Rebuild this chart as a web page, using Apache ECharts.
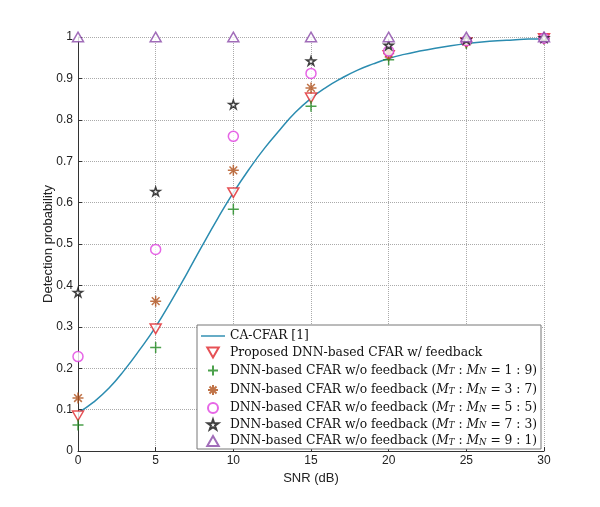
<!DOCTYPE html>
<html lang="en">
<head>
    <meta charset="UTF-8">
    <title>index</title>
    <script src="https://cdn.jsdelivr.net/npm/echarts@6/dist/echarts.min.js"></script>
    <style>
        html,body{margin:0;padding:0;background:#fff;}
        #chart{width:600px;height:507px;}
    </style>
</head>
<body>
<div id="chart"></div>
<script>
    // SNR points where the DNN detectors were evaluated
    var snrPoints = [0, 5, 10, 15, 20, 25, 30];
    // CA-CFAR curve, read every 1 dB
    var caSnr = [0,1,2,3,4,5,6,7,8,9,10,11,12,13,14,15,16,17,18,19,20,21,22,23,24,25,26,27,28,29,30];
    var caPd = [0.092,0.118,0.152,0.196,0.246,0.300,0.362,0.428,0.496,0.562,0.624,0.680,0.731,0.776,0.818,0.852,0.879,0.901,0.920,0.935,0.948,0.958,0.966,0.973,0.979,0.984,0.988,0.991,0.993,0.995,0.996];
    var proposedPd = [0.085, 0.295, 0.624, 0.853, 0.955, 0.986, 0.996];
    var pd19 = [0.063, 0.250, 0.584, 0.833, 0.945, 0.984, 0.995];
    var pd37 = [0.128, 0.362, 0.678, 0.877, 0.960, 0.989, 0.997];
    var pd55 = [0.228, 0.487, 0.760, 0.912, 0.966, 0.991, 0.997];
    var pd73 = [0.383, 0.627, 0.837, 0.942, 0.980, 0.994, 0.998];
    var pd91 = [1.000, 1.000, 1.000, 1.000, 1.000, 1.000, 1.000];
    var yTicks = [0, 0.1, 0.2, 0.3, 0.4, 0.5, 0.6, 0.7, 0.8, 0.9, 1];

    var serif = '"DejaVu Serif", "Liberation Serif", serif';
    var sans = '"Liberation Sans", Arial, sans-serif';

    // marker shapes (MATLAB-like)
    var triDownPath = 'path://M0,0 L100,0 L50,87 Z';
    var triUpPath = 'path://M50,0 L100,87 L0,87 Z';
    var plusPath = 'path://M50,0 L50,100 M0,50 L100,50';
    var asteriskPath = 'path://M50,0 L50,100 M0,50 L100,50 M15,15 L85,85 M85,15 L15,85';
    var starPath = 'path://M50,0 L61.2,34.5 L97.6,34.5 L68.2,55.9 L79.4,90.5 L50,69.1 L20.6,90.5 L31.8,55.9 L2.4,34.5 L38.8,34.5 Z';
    var linePath = 'path://M0,0 L100,0 L100,6 L0,6 Z';

    function pairs(xs, ys) {
        var out = [];
        for (var i = 0; i < xs.length; i++) out.push([xs[i], ys[i]]);
        return out;
    }

    function dnnName(ratio) {
        return 'DNN-based CFAR w/o feedback (' + ratio + ')';
    }

    function markerSeries(name, ys, symbol, color, size, fill) {
        return {
            name: name,
            type: 'scatter',
            data: pairs(snrPoints, ys),
            symbol: symbol,
            symbolSize: size,
            symbolKeepAspect: true,
            itemStyle: {color: fill || 'none', borderColor: color, borderWidth: 1.5},
            z: 3
        };
    }

    var ratios = ['1 : 9', '3 : 7', '5 : 5', '7 : 3', '9 : 1'];

    var chart = echarts.init(document.getElementById('chart'));
    chart.setOption({
        animation: false,
        grid: {left: 78, right: 56, top: 37, bottom: 56},
        xAxis: {
            type: 'value', min: 0, max: 30, interval: 5,
            name: 'SNR (dB)', nameLocation: 'middle', nameGap: 20,
            nameTextStyle: {fontFamily: sans, fontSize: 13, color: '#222'},
            axisLine: {lineStyle: {color: '#333', width: 1}},
            axisTick: {inside: true, length: 4, lineStyle: {color: '#333'}},
            axisLabel: {fontFamily: sans, fontSize: 12, color: '#222', margin: 4},
            splitLine: {lineStyle: {type: 'dotted', color: '#aaa'}}
        },
        yAxis: {
            type: 'value', min: 0, max: 1, interval: 0.1,
            name: 'Detection probability', nameLocation: 'middle', nameGap: 23,
            nameMoveOverlap: false,
            nameTextStyle: {fontFamily: sans, fontSize: 13, color: '#222'},
            axisLine: {show: true, lineStyle: {color: '#333', width: 1}},
            axisTick: {show: true, inside: true, length: 4, lineStyle: {color: '#333'}},
            axisLabel: {fontFamily: sans, fontSize: 12, color: '#222', margin: 5,
                formatter: function (v) {
                    var t = yTicks.filter(function (k) { return Math.abs(k - v) < 1e-6; })[0];
                    return t === 0 || t === 1 ? String(t) : t.toFixed(1);
                }},
            splitLine: {lineStyle: {type: 'dotted', color: '#aaa'}}
        },
        legend: {
            orient: 'vertical',
            left: 197, top: 325,
            itemWidth: 24, itemHeight: 10, itemGap: 4.5,
            symbolKeepAspect: true,
            padding: [5, 4, 2, 4],
            backgroundColor: '#fff',
            borderColor: '#777', borderWidth: 1,
            textStyle: {
                fontFamily: serif, fontSize: 12.3, color: '#111',
                rich: {
                    i: {fontFamily: serif, fontStyle: 'italic', fontSize: 12.3, color: '#111'},
                    s: {fontFamily: serif, fontStyle: 'italic', fontSize: 8.5, color: '#111', verticalAlign: 'bottom'},
                    n: {fontFamily: serif, fontSize: 12.3, color: '#111'}
                }
            },
            formatter: function (name) {
                var m = name.match(/\((\d) : (\d)\)/);
                if (!m) return name;
                return '{n|DNN-based CFAR w/o feedback (}{i|M}{s|T}{n| : }{i|M}{s|N}{n| = ' + m[1] + ' : ' + m[2] + ')}';
            },
            data: [
                {name: 'CA-CFAR [1]', icon: linePath},
                'Proposed DNN-based CFAR w/ feedback',
                dnnName(ratios[0]), dnnName(ratios[1]), dnnName(ratios[2]), dnnName(ratios[3]), dnnName(ratios[4])
            ]
        },
        series: [
            {
                name: 'CA-CFAR [1]',
                type: 'line',
                data: pairs(caSnr, caPd),
                smooth: true,
                showSymbol: false,
                symbol: 'none',
                lineStyle: {color: '#2b8cb0', width: 1.5},
                itemStyle: {color: '#2b8cb0'},
                z: 2
            },
            markerSeries('Proposed DNN-based CFAR w/ feedback', proposedPd, triDownPath, '#e0262a', 11, '#fff'),
            markerSeries(dnnName(ratios[0]), pd19, plusPath, '#1f8a1f', 11),
            markerSeries(dnnName(ratios[1]), pd37, asteriskPath, '#b0501a', 11),
            markerSeries(dnnName(ratios[2]), pd55, 'circle', '#e040e0', 10, '#fff'),
            markerSeries(dnnName(ratios[3]), pd73, starPath, '#111', 9, '#fff'),
            markerSeries(dnnName(ratios[4]), pd91, triUpPath, '#8a48a8', 11, '#fff')
        ]
    });
</script>
</body>
</html>
